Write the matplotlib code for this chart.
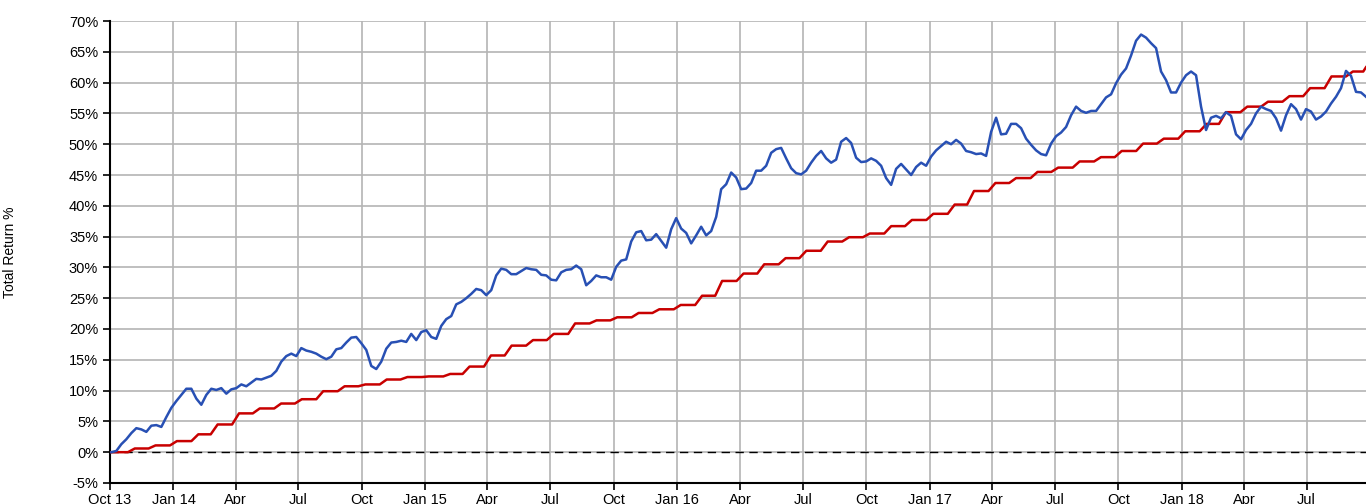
import numpy as np
import pandas as pd
import matplotlib
matplotlib.use("Agg")
import matplotlib.pyplot as plt
from matplotlib.ticker import FuncFormatter, MultipleLocator

plt.rcParams['font.family'] = ['Liberation Sans', 'DejaVu Sans']

# weekly total return of the portfolio (%), Oct 2013 -> Sep 2018
blue = [
    0, 0.2, 1.3, 2.1, 3.1, 3.9, 3.7, 3.3, 4.3, 4.4, 4.1, 5.7, 7.2, 8.3, 9.3,
    10.3, 10.3, 8.7, 7.7, 9.3, 10.3, 10.1, 10.4, 9.5, 10.2, 10.4, 11.0, 10.7,
    11.3, 11.9, 11.8, 12.1, 12.4, 13.2, 14.7, 15.6, 16.0, 15.6, 16.9, 16.5,
    16.3, 16.0, 15.5, 15.1, 15.5,
    16.7, 16.9, 17.8, 18.6, 18.7, 17.7, 16.6, 14.0, 13.5, 14.7, 16.8, 17.8,
    17.9, 18.1, 17.9, 19.2, 18.2, 19.5, 19.8, 18.7, 18.4, 20.5, 21.6, 22.1,
    24.0, 24.4, 25.0, 25.7, 26.5, 26.3, 25.5, 26.3, 28.7, 29.8, 29.6, 28.9,
    28.9, 29.4, 29.9, 29.7, 29.6,
    28.8, 28.7, 28.0, 27.9, 29.2, 29.6, 29.7, 30.3, 29.7, 27.1, 27.8, 28.7,
    28.4, 28.4, 28.0, 30.1, 31.1, 31.3, 34.2, 35.7, 35.9, 34.4, 34.5, 35.4,
    34.3, 33.2, 36.2, 38.0, 36.3, 35.6, 33.9, 35.2, 36.6, 35.2, 35.9, 38.2,
    42.7, 43.5, 45.4, 44.6, 42.7, 42.8, 43.7,
    45.7, 45.7, 46.5, 48.6, 49.2, 49.4, 47.7, 46.1, 45.3, 45.1, 45.7, 47.0,
    48.1, 48.9, 47.7, 47.0, 47.5, 50.4, 51.0, 50.2, 47.8, 47.1, 47.2, 47.7,
    47.3, 46.5, 44.5, 43.4, 46.0, 46.8, 45.9, 45.0, 46.3, 47.0, 46.5, 48.0,
    49.0, 49.7, 50.4, 50.0, 50.7,
    50.1, 48.9, 48.7, 48.4, 48.5, 48.1, 52.0, 54.3, 51.6, 51.7, 53.3, 53.3,
    52.6, 50.9, 49.9, 49.0, 48.4, 48.2, 50.1, 51.3, 51.9, 52.8, 54.7, 56.1,
    55.4, 55.1, 55.4, 55.4, 56.5, 57.6, 58.1, 59.9, 61.3, 62.3, 64.4, 66.8,
    67.8, 67.3, 66.4, 65.6,
    61.8, 60.4, 58.4, 58.4, 60.0, 61.2, 61.8, 61.2, 56.1, 52.3, 54.3, 54.6,
    54.2, 55.2, 54.6, 51.6, 50.8, 52.3, 53.3, 55.0, 56.1, 55.7, 55.4, 54.2,
    52.2, 54.7, 56.5, 55.7, 54.0, 55.7, 55.3, 54.0, 54.5, 55.3, 56.6, 57.7,
    59.1, 61.9, 61.1, 58.5, 58.4, 57.7,
]

# monthly benchmark level (%), Oct 2013 -> Sep 2018
red = [
    0.0, 0.6, 1.1,
    1.8, 2.9, 4.5, 6.3, 7.1, 7.9, 8.6, 9.9, 10.7, 11.0, 11.8, 12.2,
    12.3, 12.7, 13.9, 15.7, 17.3, 18.2, 19.2, 20.9, 21.4, 21.9, 22.6, 23.2,
    23.9, 25.4, 27.8, 29.0, 30.5, 31.5, 32.7, 34.2, 34.9, 35.5, 36.7, 37.7,
    38.7, 40.2, 42.4, 43.7, 44.5, 45.5, 46.2, 47.2, 47.9, 48.9, 50.1, 50.9,
    52.1, 53.3, 55.2, 56.1, 56.9, 57.8, 59.1, 61.0, 61.8,
]
red_last = 62.5

start = pd.Timestamp('2013-10-01')
end = pd.Timestamp('2018-09-25')

blue_dates = pd.date_range('2013-10-03', end, periods=len(blue))
months = pd.date_range(start, periods=len(red) + 1, freq='MS')
red_x, red_y = [], []
for i, v in enumerate(red):
    a = months[i] + pd.Timedelta(days=5) if i > 0 else months[i]
    b = months[i + 1] - pd.Timedelta(days=5)
    red_x += [a, b]
    red_y += [v, v]
red_x[-1] = end - pd.Timedelta(days=4)
red_x.append(end)
red_y.append(red_last)

fig = plt.figure(figsize=(13.66, 5.04), dpi=100)
ax = fig.add_axes([0.0805, 0.0417, 0.9195, 0.9166])

ax.plot(red_x, red_y, color='#c80000', lw=1.8, zorder=3)
ax.plot(blue_dates, blue, color='#2850b4', lw=1.8, zorder=4)
ax.axhline(0, color='black', lw=1, ls=(0, (6, 4)), zorder=2)

ax.set_xlim(start, end)
ax.set_ylim(-5, 70)
ax.yaxis.set_major_locator(MultipleLocator(5))
ax.yaxis.set_major_formatter(FuncFormatter(lambda v, p: f'{v:.0f}%'))

ticks = pd.date_range(start, end, freq='QS-OCT')
labels = []
for t in ticks:
    if t.month == 1 or t == ticks[0]:
        labels.append(t.strftime('%b %y'))
    else:
        labels.append(t.strftime('%b'))
ax.set_xticks(ticks)
ax.set_xticklabels(labels)

ax.grid(True, color='#b4b4b4', lw=1.2, zorder=0)
ax.set_axisbelow(True)
for s in ['top', 'right']:
    ax.spines[s].set_visible(False)
ax.spines['left'].set_linewidth(1.5)
ax.spines['bottom'].set_linewidth(1.5)
ax.tick_params(axis='both', labelsize=10.5, length=5, width=1.2, colors='black')
ax.tick_params(axis='x', pad=2)

ax.set_ylabel('Total Return %', fontsize=10)
ax.yaxis.set_label_coords(-0.074, 0.5)

fig.savefig('out.png', dpi=100)
